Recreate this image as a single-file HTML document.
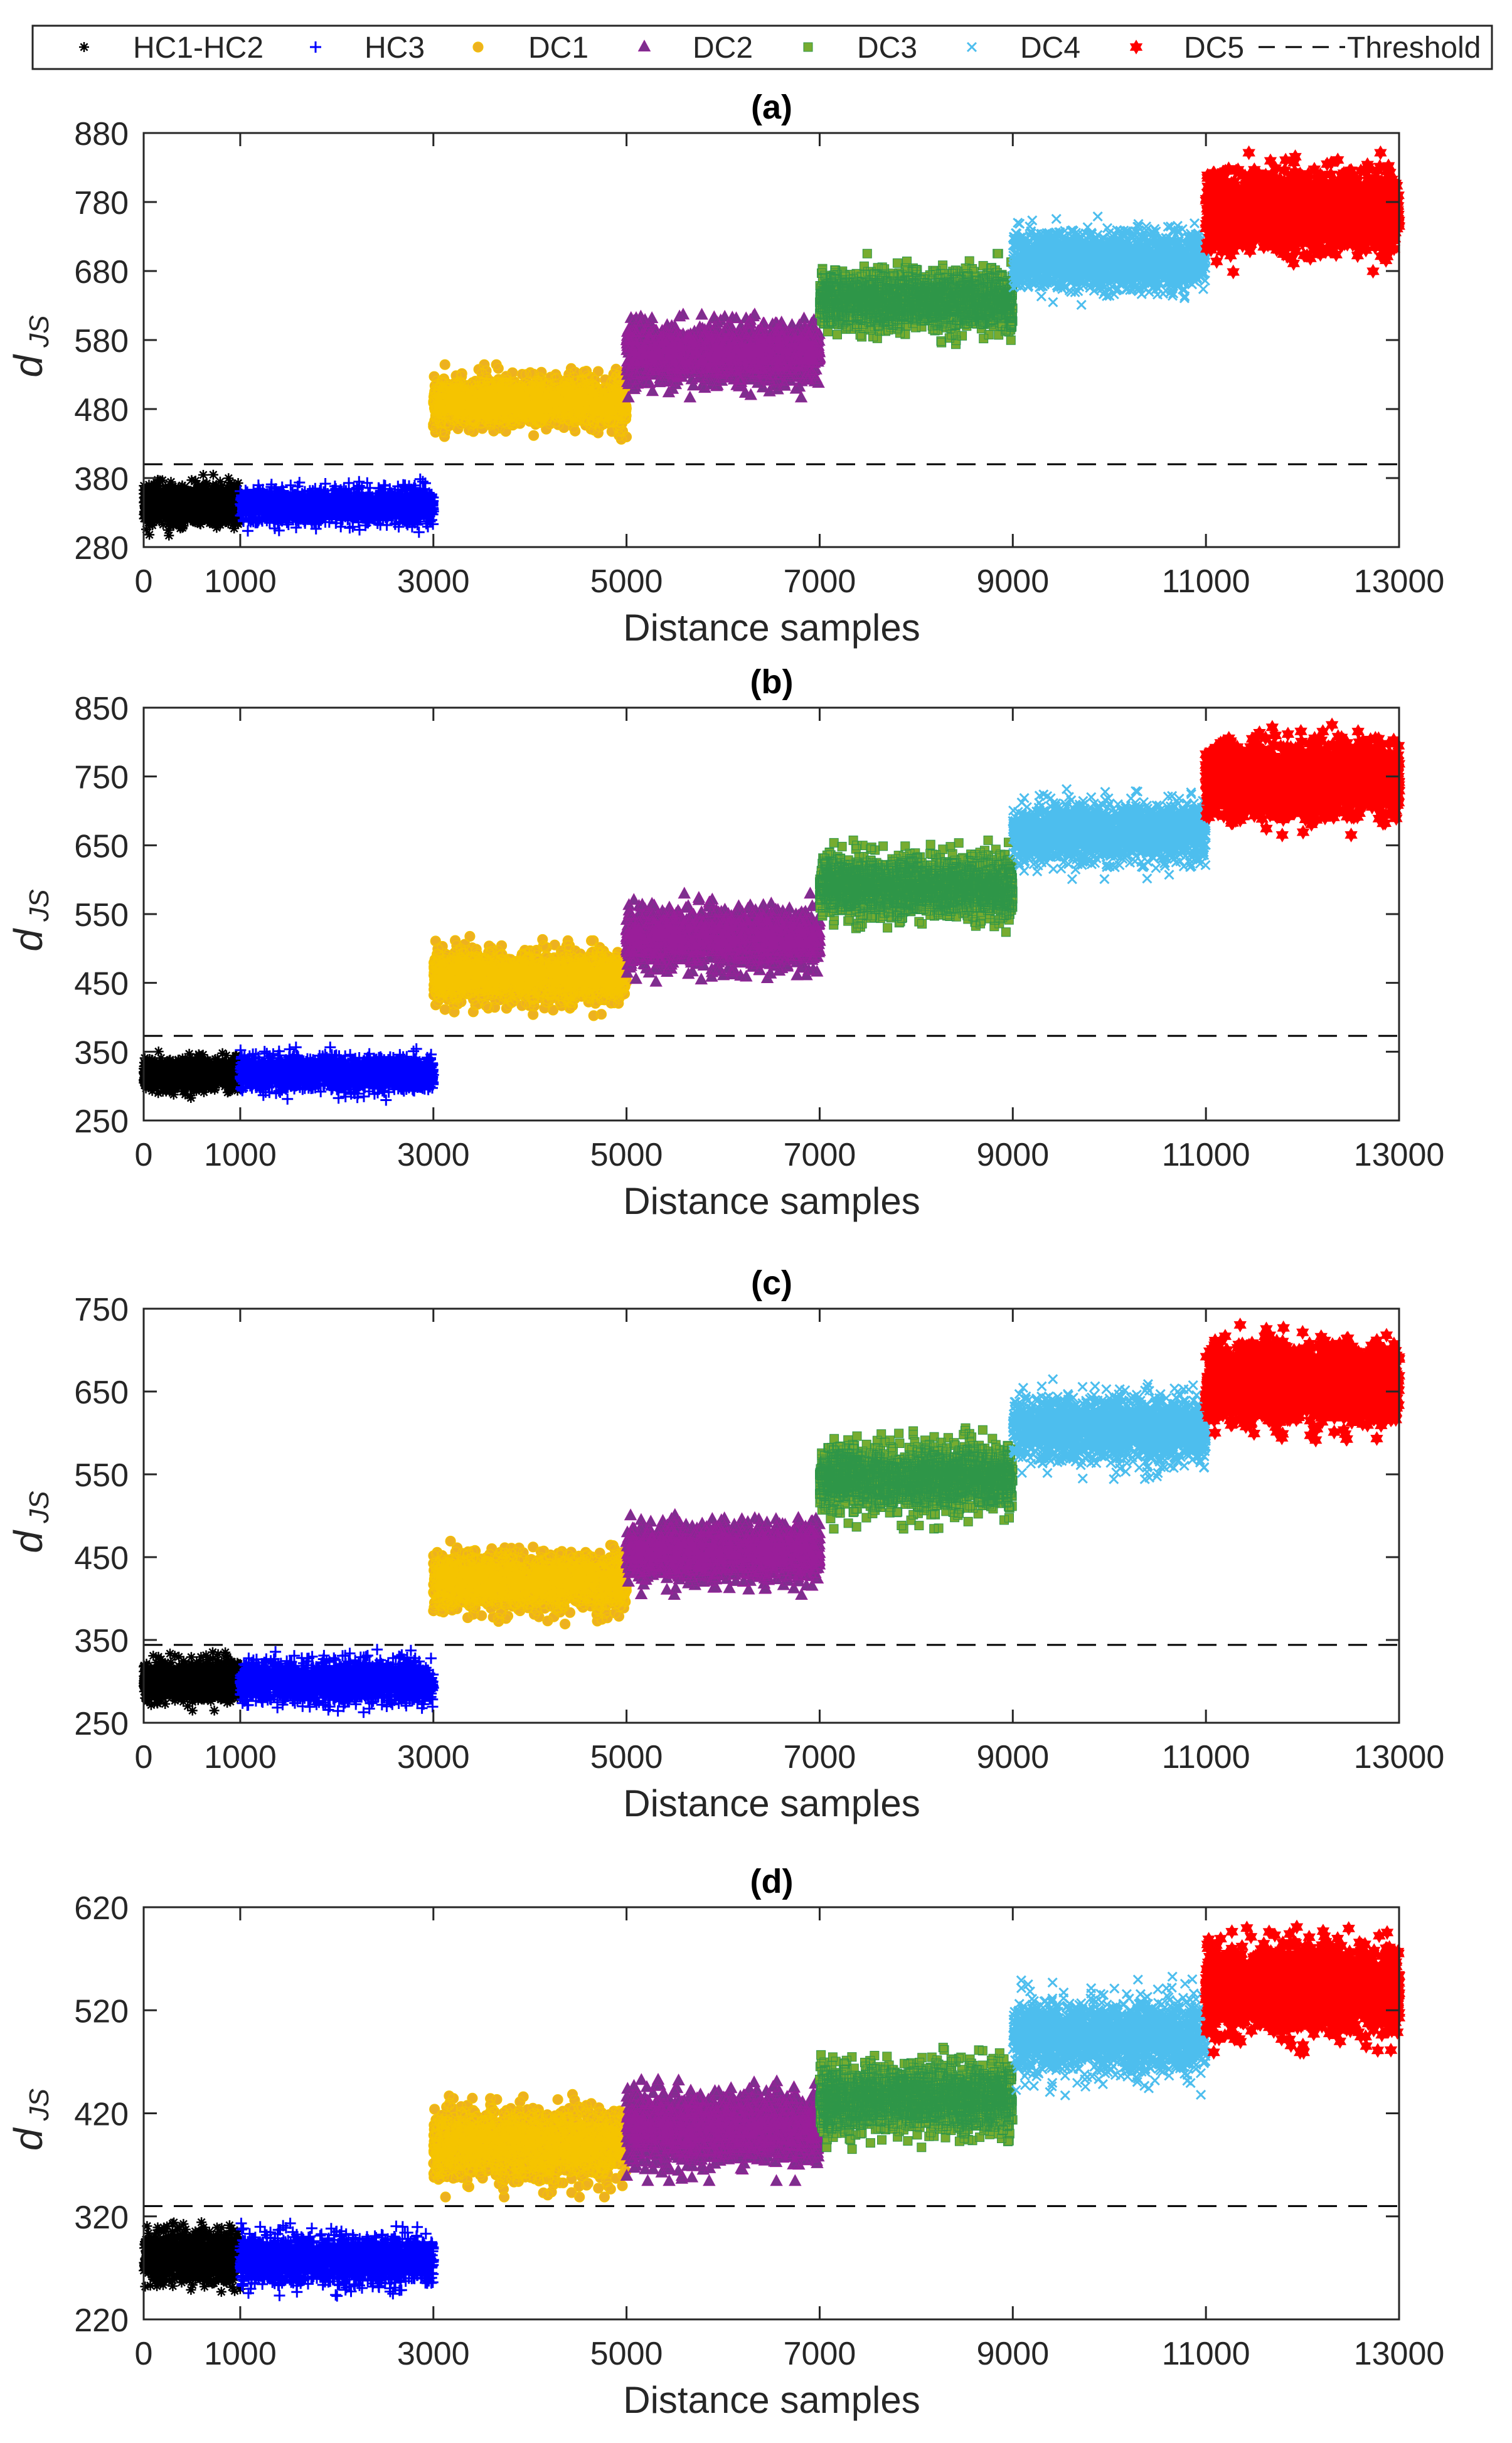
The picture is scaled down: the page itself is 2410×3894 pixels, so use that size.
<!DOCTYPE html>
<html><head><meta charset="utf-8">
<style>
html,body{margin:0;padding:0;background:#fff;}
svg{display:block;}
text{font-family:"Liberation Sans",Arial,sans-serif;fill:#262626;}
</style></head>
<body>
<svg id="s" width="2410" height="3894" xmlns="http://www.w3.org/2000/svg"></svg>
<script>
(function(){
var svg=document.getElementById('s');
var out=[];
var seed=12345;
function rnd(){seed|=0;seed=seed+0x6D2B79F5|0;var t=Math.imul(seed^seed>>>15,1|seed);t=t+Math.imul(t^t>>>7,61|t)^t;return((t^t>>>14)>>>0)/4294967296;}
function nrm(){var u=rnd()||1e-9,v=rnd();return Math.sqrt(-2*Math.log(u))*Math.cos(2*Math.PI*v);}
var L=229,R=2230;
function X(v){return L+v/13000*(R-L);}
function f(v){return Math.round(v*10)/10;}
var hexPts=[];
for(var i=0;i<12;i++){var ang=-Math.PI/2+i*Math.PI/6;var rr=(i%2==0)?11:6.4;hexPts.push([rr*Math.cos(ang),rr*Math.sin(ang)]);}
function mk(type,x,y){
  x=Number(x);y=Number(y);
  var r;
  switch(type){
   case 'star': r=8; return 'M'+f(x-r)+' '+f(y)+'h'+(2*r)+'M'+f(x)+' '+f(y-r)+'v'+(2*r)+'M'+f(x-r*.7)+' '+f(y-r*.7)+'l'+f(1.4*r)+' '+f(1.4*r)+'M'+f(x-r*.7)+' '+f(y+r*.7)+'l'+f(1.4*r)+' '+f(-1.4*r);
   case 'plus': r=9; return 'M'+f(x-r)+' '+f(y)+'h'+(2*r)+'M'+f(x)+' '+f(y-r)+'v'+(2*r);
   case 'circ': r=8; return 'M'+f(x-r)+' '+f(y)+'a'+r+' '+r+' 0 1 0 '+(2*r)+' 0a'+r+' '+r+' 0 1 0 '+(-2*r)+' 0Z';
   case 'tri': r=11; return 'M'+f(x)+' '+f(y-r)+'L'+f(x+r*.87)+' '+f(y+r*.6)+'L'+f(x-r*.87)+' '+f(y+r*.6)+'Z';
   case 'sq': r=7; return 'M'+f(x-r)+' '+f(y-r)+'h'+(2*r)+'v'+(2*r)+'h'+(-2*r)+'Z';
   case 'x': r=7; return 'M'+f(x-r)+' '+f(y-r)+'l'+(2*r)+' '+(2*r)+'M'+f(x-r)+' '+f(y+r)+'l'+(2*r)+' '+(-2*r);
   case 'hex': var s='';for(var k=0;k<12;k++){s+=(k?'L':'M')+f(x+hexPts[k][0])+' '+f(y+hexPts[k][1]);}return s+'Z';
  }
}
var styles={
 star:'fill="none" stroke="#000" stroke-width="2.5"',
 plus:'fill="none" stroke="#0000FF" stroke-width="3"',
 circ:'fill="#EDB120" stroke="#F5C400" stroke-width="1.2"',
 tri:'fill="#7E2F8E" stroke="#9A1E9A" stroke-width="0.8"',
 sq:'fill="#77AC30" stroke="#2E9648" stroke-width="1"',
 x:'fill="none" stroke="#4DBEEE" stroke-width="3"',
 hex:'fill="#FF0000" stroke="#FF0000" stroke-width="0.8"'
};
var types=['star','plus','circ','tri','sq','x','hex'];
var xr=[[0,1000],[1000,3000],[3000,5000],[5000,7000],[7000,9000],[9000,11000],[11000,13000]];
var panels=[
 {top:212,bot:872,ymin:280,ymax:880,step:100,thr:400,title:'(a)',
  s:[[340,14],[340,12],[490,17],[560,20],[638,21],[695,20],[765,27]]},
 {top:1128,bot:1786,ymin:250,ymax:850,step:100,thr:373,title:'(b)',
  s:[[318,11],[318,12],[460,18],[515,20],[590,21],[668,21],[745,25]]},
 {top:2086,bot:2746,ymin:250,ymax:750,step:100,thr:344,title:'(c)',
  s:[[300,11],[300,12],[420,16],[455,16],[545,19],[605,19],[660,22]]},
 {top:3040,bot:3697,ymin:220,ymax:620,step:100,thr:330,title:'(d)',
  s:[[280,12],[278,11],[390,16],[405,16],[435,16],[495,18],[540,19]]}
];
panels.forEach(function(p){
  function Y(v){return p.bot-(v-p.ymin)/(p.ymax-p.ymin)*(p.bot-p.top);}
  out.push('<text x="1230" y="'+(p.top-23)+'" font-size="54" font-weight="bold" text-anchor="middle" style="fill:#000">'+p.title+'</text>');
  p.s.forEach(function(sp,i){
    var n=(i==0?1000:1800),d='';
    var a=xr[i][0],b=xr[i][1];
    for(var k=0;k<n;k++){
      var xv=a+rnd()*(b-a);
      var z=nrm(); if(z>3.2)z=3.2; if(z<-3.2)z=-3.2;
      var yv=sp[0]+z*sp[1];
      d+=mk(types[i],X(xv),Y(yv));
    }
    out.push('<path d="'+d+'" '+styles[types[i]]+'/>');
  });
  out.push('<line x1="'+L+'" x2="'+R+'" y1="'+Y(p.thr)+'" y2="'+Y(p.thr)+'" stroke="#000" stroke-width="3" stroke-dasharray="30,18"/>');
  out.push('<rect x="'+L+'" y="'+p.top+'" width="'+(R-L)+'" height="'+(p.bot-p.top)+'" fill="none" stroke="#262626" stroke-width="3"/>');
  [0,1000,3000,5000,7000,9000,11000,13000].forEach(function(v){
    var x=X(v);
    out.push('<line x1="'+x+'" x2="'+x+'" y1="'+p.bot+'" y2="'+(p.bot-21)+'" stroke="#262626" stroke-width="3"/>');
    out.push('<line x1="'+x+'" x2="'+x+'" y1="'+p.top+'" y2="'+(p.top+21)+'" stroke="#262626" stroke-width="3"/>');
    out.push('<text x="'+x+'" y="'+(p.bot+72)+'" font-size="52" text-anchor="middle">'+v+'</text>');
  });
  for(var v=p.ymin;v<=p.ymax;v+=p.step){
    var y=Y(v);
    out.push('<line x1="'+L+'" x2="'+(L+21)+'" y1="'+y+'" y2="'+y+'" stroke="#262626" stroke-width="3"/>');
    out.push('<line x1="'+R+'" x2="'+(R-21)+'" y1="'+y+'" y2="'+y+'" stroke="#262626" stroke-width="3"/>');
    out.push('<text x="205" y="'+(y+19)+'" font-size="52" text-anchor="end">'+v+'</text>');
  }
  out.push('<text x="1230" y="'+(p.bot+149)+'" font-size="60" text-anchor="middle">Distance samples</text>');
  var cy=(p.top+p.bot)/2;
  out.push('<text transform="translate(67,'+(cy+10)+') rotate(-90)" font-size="64" font-style="italic" text-anchor="middle">d<tspan font-size="44" dy="10"> JS</tspan></text>');
});
out.push('<rect x="52" y="41" width="2326" height="69" fill="#fff" stroke="#262626" stroke-width="3"/>');
var leg=[['star',134,212,'HC1-HC2'],['plus',503,581,'HC3'],['circ',762,842,'DC1'],['tri',1027,1104,'DC2'],['sq',1288,1366,'DC3'],['x',1549,1626,'DC4'],['hex',1811,1887,'DC5']];
leg.forEach(function(l){
  out.push('<path d="'+mk(l[0],l[1],75)+'" '+styles[l[0]]+'/>');
  out.push('<text x="'+l[2]+'" y="92" font-size="48">'+l[3]+'</text>');
});
out.push('<line x1="2006" x2="2144" y1="75" y2="75" stroke="#000" stroke-width="3" stroke-dasharray="26,17"/>');
out.push('<text x="2147" y="92" font-size="48">Threshold</text>');
svg.innerHTML=out.join('');
})();
</script>
</body></html>
